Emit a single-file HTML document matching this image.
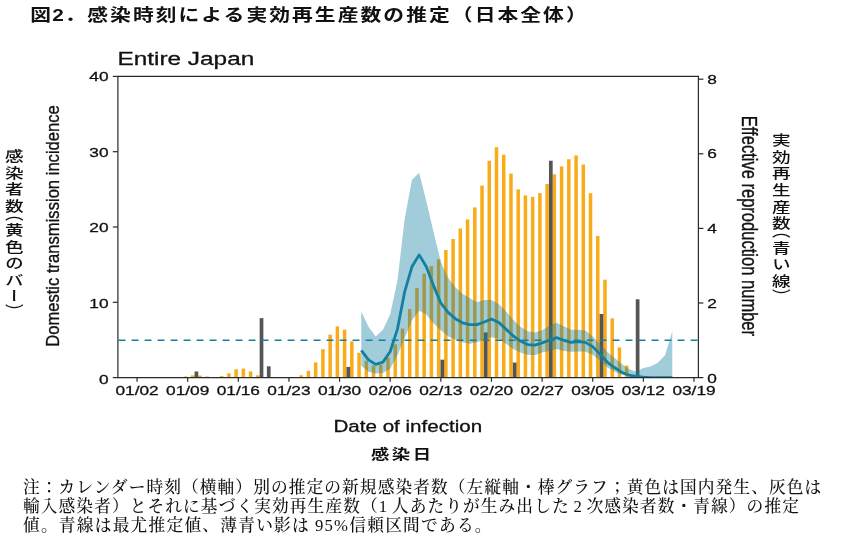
<!DOCTYPE html>
<html lang="ja"><head><meta charset="utf-8"><title>図2</title>
<style>
html,body{margin:0;padding:0;background:#fff}
body{width:865px;height:548px;position:relative;overflow:hidden;color:#111}
.abs{position:absolute;white-space:nowrap}
.title{left:0;top:2.2px;font:bold 17.3px/26px "Liberation Sans","Noto Sans CJK JP",sans-serif;letter-spacing:1.74px;transform-origin:0 0;transform:scaleX(1.2)}
.title span{position:absolute;top:0}
.note{left:23px;top:479.3px;word-spacing:-2.5px;font:500 16.7px/18.9px "Liberation Serif","Noto Serif CJK JP","Noto Serif CJK SC",serif;letter-spacing:1.1px}
.note .l2{word-spacing:-1.6px}
.note .l3{letter-spacing:1.25px;word-spacing:-0.5px}
.xl{left:370.6px;top:443.2px;font:700 14px/22px "Liberation Sans","Noto Sans CJK JP",sans-serif;letter-spacing:1.9px;transform-origin:0 0;transform:scaleX(1.31)}
.vt{writing-mode:vertical-rl;font:500 14px/18px "Liberation Sans","Noto Sans CJK JP",sans-serif;letter-spacing:2.55px;transform-origin:50% 0;transform:scaleX(1.33)}
.vt .p{font-feature-settings:"vhal" 1}
</style></head><body>
<svg width="865" height="548" viewBox="0 0 865 548" style="position:absolute;left:0;top:0">
<g fill="#FAAB18">
<rect x="183.73" y="376.47" width="3.5" height="1.13"/>
<rect x="190.96" y="375.34" width="3.5" height="2.26"/>
<rect x="198.20" y="375.57" width="3.5" height="2.03"/>
<rect x="205.43" y="376.47" width="3.5" height="1.13"/>
<rect x="212.66" y="377.22" width="3.5" height="0.38"/>
<rect x="219.90" y="376.09" width="3.5" height="1.51"/>
<rect x="227.13" y="373.38" width="3.5" height="4.22"/>
<rect x="234.36" y="369.32" width="3.5" height="8.28"/>
<rect x="241.60" y="368.56" width="3.5" height="9.04"/>
<rect x="248.83" y="371.35" width="3.5" height="6.25"/>
<rect x="256.06" y="375.34" width="3.5" height="2.26"/>
<rect x="263.29" y="377.22" width="3.5" height="0.38"/>
<rect x="299.46" y="375.27" width="3.5" height="2.33"/>
<rect x="306.69" y="370.90" width="3.5" height="6.70"/>
<rect x="313.93" y="362.39" width="3.5" height="15.21"/>
<rect x="321.16" y="349.14" width="3.5" height="28.46"/>
<rect x="328.39" y="334.68" width="3.5" height="42.92"/>
<rect x="335.62" y="326.40" width="3.5" height="51.20"/>
<rect x="342.86" y="329.71" width="3.5" height="47.89"/>
<rect x="350.09" y="341.38" width="3.5" height="36.22"/>
<rect x="357.32" y="352.75" width="3.5" height="24.85"/>
<rect x="364.56" y="360.81" width="3.5" height="16.79"/>
<rect x="371.79" y="365.48" width="3.5" height="12.12"/>
<rect x="379.02" y="364.72" width="3.5" height="12.88"/>
<rect x="386.26" y="357.72" width="3.5" height="19.88"/>
<rect x="393.49" y="344.32" width="3.5" height="33.28"/>
<rect x="400.72" y="328.58" width="3.5" height="49.02"/>
<rect x="407.95" y="309.08" width="3.5" height="68.52"/>
<rect x="415.19" y="287.99" width="3.5" height="89.61"/>
<rect x="422.42" y="273.69" width="3.5" height="103.91"/>
<rect x="429.65" y="266.16" width="3.5" height="111.44"/>
<rect x="436.89" y="259.38" width="3.5" height="118.22"/>
<rect x="444.12" y="249.97" width="3.5" height="127.63"/>
<rect x="451.35" y="239.05" width="3.5" height="138.55"/>
<rect x="458.58" y="228.51" width="3.5" height="149.09"/>
<rect x="465.82" y="219.47" width="3.5" height="158.13"/>
<rect x="473.05" y="207.42" width="3.5" height="170.18"/>
<rect x="480.28" y="185.59" width="3.5" height="192.02"/>
<rect x="487.52" y="160.74" width="3.5" height="216.86"/>
<rect x="494.75" y="147.18" width="3.5" height="230.42"/>
<rect x="501.98" y="154.71" width="3.5" height="222.89"/>
<rect x="509.22" y="173.54" width="3.5" height="204.06"/>
<rect x="516.45" y="189.35" width="3.5" height="188.25"/>
<rect x="523.68" y="195.37" width="3.5" height="182.23"/>
<rect x="530.91" y="196.88" width="3.5" height="180.72"/>
<rect x="538.15" y="193.12" width="3.5" height="184.49"/>
<rect x="545.38" y="184.08" width="3.5" height="193.52"/>
<rect x="552.61" y="174.29" width="3.5" height="203.31"/>
<rect x="559.85" y="166.38" width="3.5" height="211.22"/>
<rect x="567.08" y="159.23" width="3.5" height="218.37"/>
<rect x="574.31" y="155.47" width="3.5" height="222.14"/>
<rect x="581.55" y="164.50" width="3.5" height="213.10"/>
<rect x="588.78" y="193.12" width="3.5" height="184.49"/>
<rect x="596.01" y="236.04" width="3.5" height="141.56"/>
<rect x="603.24" y="279.71" width="3.5" height="97.89"/>
<rect x="610.48" y="318.34" width="3.5" height="59.26"/>
<rect x="617.71" y="347.48" width="3.5" height="30.12"/>
<rect x="624.94" y="365.55" width="3.5" height="12.05"/>
</g><g fill="#555555">
<rect x="194.56" y="371.50" width="3.7" height="6.10"/>
<rect x="259.66" y="318.11" width="3.7" height="59.49"/>
<rect x="266.89" y="366.31" width="3.7" height="11.30"/>
<rect x="346.46" y="366.91" width="3.7" height="10.69"/>
<rect x="440.49" y="359.68" width="3.7" height="17.92"/>
<rect x="483.88" y="332.42" width="3.7" height="45.18"/>
<rect x="512.82" y="362.54" width="3.7" height="15.06"/>
<rect x="548.98" y="160.74" width="3.7" height="216.86"/>
<rect x="599.61" y="313.97" width="3.7" height="63.63"/>
<rect x="635.78" y="299.29" width="3.7" height="78.31"/>
</g>
<clipPath id="cp"><rect x="117.9" y="76.4" width="580.5" height="301.20"/></clipPath><g clip-path="url(#cp)">
<polygon points="361.27,311.58 368.51,326.87 375.74,336.57 382.97,329.86 390.21,314.19 397.44,280.62 404.67,219.08 411.90,179.91 419.14,172.82 426.37,201.54 433.60,232.13 440.84,261.97 448.07,277.64 455.30,287.33 462.53,293.68 469.77,298.15 477.00,302.25 484.23,300.02 491.47,300.02 498.70,304.12 505.93,311.21 513.17,319.79 520.40,326.87 527.63,331.35 534.87,332.47 542.10,330.23 549.33,325.75 556.56,322.77 563.80,326.31 571.03,329.67 578.26,329.67 585.50,330.60 592.73,336.57 599.96,343.81 607.19,351.86 614.43,357.83 621.66,363.99 628.89,369.02 636.13,371.63 643.36,367.90 650.59,366.60 657.83,362.68 665.06,355.22 672.29,331.16 672.29,377.60 665.06,377.60 657.83,377.60 650.59,377.60 643.36,377.60 636.13,377.60 628.89,376.85 621.66,374.62 614.43,371.63 607.19,367.16 599.96,360.59 592.73,354.85 585.50,351.86 578.26,351.49 571.03,351.86 563.80,351.12 556.56,348.88 549.33,351.12 542.10,352.61 534.87,355.22 527.63,354.85 520.40,352.61 513.17,348.88 505.93,343.66 498.70,338.81 491.47,337.32 484.23,339.55 477.00,342.17 469.77,343.66 462.53,342.17 455.30,339.55 448.07,336.20 440.84,330.23 433.60,323.52 426.37,314.56 419.14,310.83 411.90,320.53 404.67,338.06 397.44,355.59 390.21,368.65 382.97,373.12 375.74,373.50 368.51,371.63 361.27,365.66" fill="#1380A1" fill-opacity="0.4"/>
<polyline points="361.27,350.37 368.51,359.85 375.74,364.36 382.97,362.12 390.21,351.49 397.44,329.11 404.67,291.81 411.90,266.82 419.14,254.88 426.37,266.82 433.60,285.84 440.84,303.00 448.07,312.33 455.30,318.67 462.53,322.77 469.77,324.63 477.00,324.63 484.23,322.02 491.47,319.04 498.70,322.40 505.93,329.11 513.17,335.82 520.40,341.05 527.63,344.59 534.87,345.15 542.10,342.91 549.33,340.30 556.56,337.69 563.80,340.30 571.03,342.35 578.26,341.61 585.50,342.35 592.73,346.64 599.96,354.10 607.19,362.05 614.43,367.53 621.66,372.19 628.89,375.18 636.13,376.48 643.36,377.23 650.59,377.60 657.83,377.60 665.06,377.60 672.29,377.60" fill="none" stroke="#1380A1" stroke-width="2.8" stroke-linejoin="round"/>
</g>
<line x1="118" y1="340.30" x2="698.4" y2="340.30" stroke="#1380A1" stroke-width="1.6" stroke-dasharray="6.9 6.1" stroke-dashoffset="-0.6"/>
<g stroke="#2a2a2a" stroke-width="1.2" fill="none">
<path d="M117.9 377.6 V76.4 H698.4 V377.6 Z"/>
<line x1="112.8" x2="117.9" y1="377.60" y2="377.60"/>
<line x1="112.8" x2="117.9" y1="302.30" y2="302.30"/>
<line x1="112.8" x2="117.9" y1="227.00" y2="227.00"/>
<line x1="112.8" x2="117.9" y1="151.70" y2="151.70"/>
<line x1="112.8" x2="117.9" y1="76.40" y2="76.40"/>
<line x1="698.4" x2="703.4" y1="377.60" y2="377.60"/>
<line x1="698.4" x2="703.4" y1="303.00" y2="303.00"/>
<line x1="698.4" x2="703.4" y1="228.40" y2="228.40"/>
<line x1="698.4" x2="703.4" y1="153.80" y2="153.80"/>
<line x1="698.4" x2="703.4" y1="79.20" y2="79.20"/>
<line x1="137.05" x2="137.05" y1="377.6" y2="381.80"/>
<line x1="187.68" x2="187.68" y1="377.6" y2="381.80"/>
<line x1="238.31" x2="238.31" y1="377.6" y2="381.80"/>
<line x1="288.94" x2="288.94" y1="377.6" y2="381.80"/>
<line x1="339.57" x2="339.57" y1="377.6" y2="381.80"/>
<line x1="390.21" x2="390.21" y1="377.6" y2="381.80"/>
<line x1="440.84" x2="440.84" y1="377.6" y2="381.80"/>
<line x1="491.47" x2="491.47" y1="377.6" y2="381.80"/>
<line x1="542.10" x2="542.10" y1="377.6" y2="381.80"/>
<line x1="592.73" x2="592.73" y1="377.6" y2="381.80"/>
<line x1="643.36" x2="643.36" y1="377.6" y2="381.80"/>
<line x1="693.99" x2="693.99" y1="377.6" y2="381.80"/>
</g>
<g font-family="'Liberation Sans', sans-serif" font-size="13.4" fill="#111" stroke="#111" stroke-width="0.3">
<text transform="translate(108.6 383.60) scale(1.29 1)" text-anchor="end">0</text>
<text transform="translate(108.6 307.93) scale(1.29 1)" text-anchor="end">10</text>
<text transform="translate(108.6 232.25) scale(1.29 1)" text-anchor="end">20</text>
<text transform="translate(108.6 156.58) scale(1.29 1)" text-anchor="end">30</text>
<text transform="translate(108.6 80.90) scale(1.29 1)" text-anchor="end">40</text>
<text transform="translate(707.2 383.40) scale(1.29 1)">0</text>
<text transform="translate(707.2 308.43) scale(1.29 1)">2</text>
<text transform="translate(707.2 233.46) scale(1.29 1)">4</text>
<text transform="translate(707.2 158.49) scale(1.29 1)">6</text>
<text transform="translate(707.2 83.51) scale(1.29 1)">8</text>
<text transform="translate(137.05 395.4) scale(1.29 1)" text-anchor="middle">01/02</text>
<text transform="translate(187.68 395.4) scale(1.29 1)" text-anchor="middle">01/09</text>
<text transform="translate(238.31 395.4) scale(1.29 1)" text-anchor="middle">01/16</text>
<text transform="translate(288.94 395.4) scale(1.29 1)" text-anchor="middle">01/23</text>
<text transform="translate(339.57 395.4) scale(1.29 1)" text-anchor="middle">01/30</text>
<text transform="translate(390.21 395.4) scale(1.29 1)" text-anchor="middle">02/06</text>
<text transform="translate(440.84 395.4) scale(1.29 1)" text-anchor="middle">02/13</text>
<text transform="translate(491.47 395.4) scale(1.29 1)" text-anchor="middle">02/20</text>
<text transform="translate(542.10 395.4) scale(1.29 1)" text-anchor="middle">02/27</text>
<text transform="translate(592.73 395.4) scale(1.29 1)" text-anchor="middle">03/05</text>
<text transform="translate(643.36 395.4) scale(1.29 1)" text-anchor="middle">03/12</text>
<text transform="translate(693.99 395.4) scale(1.29 1)" text-anchor="middle">03/19</text>
</g>
<text transform="translate(117.4 64.7) scale(1.27 1)" font-family="'Liberation Sans', sans-serif" font-size="19.2" fill="#111" stroke="#111" stroke-width="0.3">Entire Japan</text>
<text transform="translate(407.8 432) scale(1.24 1)" text-anchor="middle" font-family="'Liberation Sans', sans-serif" font-size="16.6" fill="#111" stroke="#111" stroke-width="0.3">Date of infection</text>
<text transform="translate(59.1 226) scale(1.144 1) rotate(-90)" text-anchor="middle" font-family="'Liberation Sans', sans-serif" font-size="16.6" fill="#111" stroke="#111" stroke-width="0.3">Domestic transmission incidence</text>
<text transform="translate(742 225.9) scale(1.323 1) rotate(90)" text-anchor="middle" font-family="'Liberation Sans', sans-serif" font-size="16.55" fill="#111" stroke="#111" stroke-width="0.3">Effective reproduction number</text>
</svg>
<div class="abs title"><span style="left:25.2px">図</span><span style="left:43.6px">2</span><span style="left:54px">．</span><span style="left:72.7px">感染時刻による実効再生産数の推定（日本全体）</span></div>
<div class="abs xl">感染日</div>
<div class="abs vt" style="left:3.5px;top:149.3px">感染者数<span class="p" style="margin:-1.2px 0 -0.9px">（</span>黄色のバー<span class="p" style="margin:-1.5px 0 0">）</span></div>
<div class="abs vt" style="left:770.8px;top:132.5px">実効再生産数<span class="p" style="margin:-0.9px 0 -0.6px">（</span>青い線<span class="p" style="margin:-0.3px 0 0">）</span></div>
<div class="abs note">注：カレンダー時刻（横軸）別の推定の新規感染者数（左縦軸・棒グラフ；黄色は国内発生、灰色は<br><span class="l2">輸入感染者）とそれに基づく実効再生産数（1 人あたりが生み出した 2 次感染者数・青線）の推定</span><br><span class="l3">値。青線は最尤推定値、薄青い影は 95%信頼区間である。</span></div>
</body></html>
